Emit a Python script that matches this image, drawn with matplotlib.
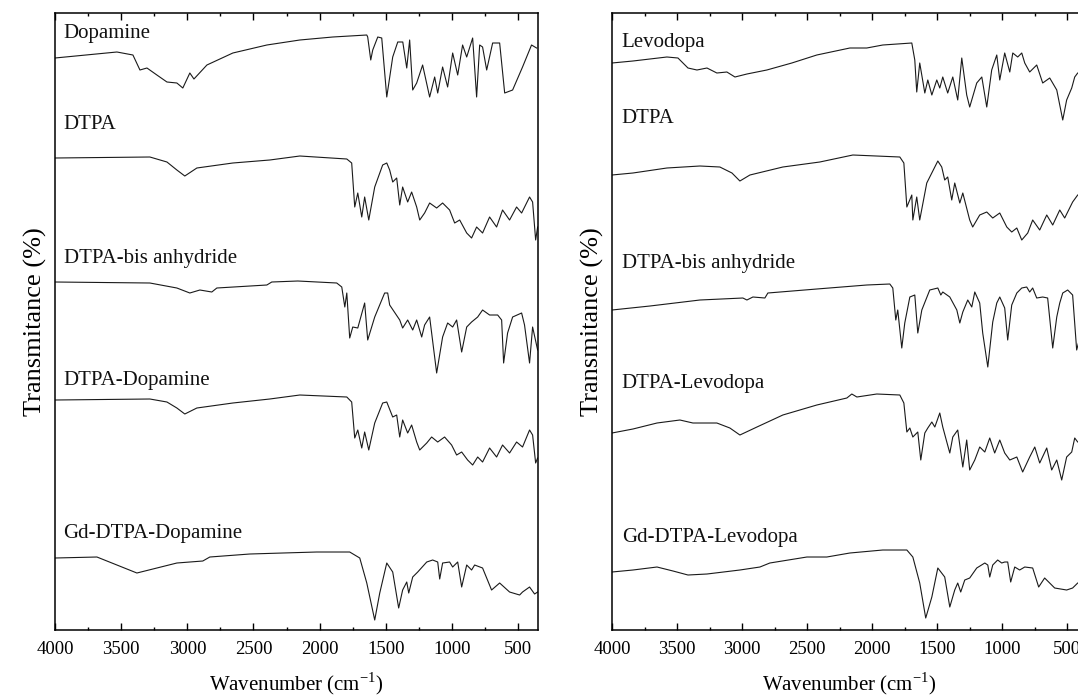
import matplotlib
matplotlib.use("Agg")
import numpy as np
import matplotlib.pyplot as plt
from matplotlib.ticker import MultipleLocator

plt.rcParams['font.family'] = ['Liberation Serif', 'DejaVu Serif']
plt.rcParams['mathtext.fontset'] = 'custom'
plt.rcParams['mathtext.rm'] = 'Liberation Serif'

# (wavenumber cm-1, transmittance a.u.) for every spectrum
dopamine = [(4000, 72), (3532, 78), (3411, 75), (3358, 60), (3305, 62), (3230, 55), (3154, 48),
            (3079, 47), (3034, 42), (2981, 57), (2950, 51), (2852, 65), (2656, 77), (2399, 85),
            (2150, 90), (1901, 93), (1644, 95), (1637, 93), (1614, 70), (1599, 80), (1561, 93),
            (1531, 92), (1493, 33), (1448, 73), (1410, 88), (1372, 88), (1342, 62), (1320, 90),
            (1297, 40), (1267, 47), (1222, 65), (1169, 33), (1131, 53), (1108, 37), (1071, 63),
            (1033, 43), (995, 77), (957, 55), (920, 85), (889, 73), (844, 92), (814, 33),
            (791, 85), (769, 83), (738, 60), (693, 87), (640, 87), (602, 37), (542, 40),
            (467, 63), (399, 85), (361, 82)]
dtpa_l = [(4000, 102), (3283, 103), (3154, 98), (3079, 90), (3019, 84), (2928, 92), (2656, 97),
          (2377, 100), (2150, 104), (1795, 101), (1758, 97), (1735, 53), (1712, 67), (1682, 43),
          (1660, 63), (1629, 40), (1584, 73), (1524, 95), (1493, 97), (1471, 90), (1448, 78),
          (1418, 82), (1395, 55), (1373, 73), (1335, 58), (1305, 68), (1267, 53), (1244, 40),
          (1207, 47), (1169, 57), (1116, 52), (1071, 57), (1018, 50), (980, 37), (942, 40),
          (889, 27), (852, 22), (814, 33), (769, 27), (716, 43), (663, 33), (618, 50),
          (565, 40), (512, 53), (474, 47), (414, 63), (391, 58), (368, 20), (353, 33)]
bis_l = [(4000, 98), (3283, 97), (3079, 92), (2981, 87), (2905, 90), (2815, 88), (2777, 92),
         (2399, 95), (2362, 98), (2165, 99), (1871, 97), (1833, 93), (1810, 73), (1795, 87),
         (1773, 42), (1750, 53), (1712, 52), (1660, 77), (1637, 40), (1584, 63), (1509, 87),
         (1486, 87), (1471, 75), (1395, 60), (1373, 52), (1335, 60), (1297, 50), (1267, 60),
         (1229, 43), (1207, 55), (1169, 63), (1116, 7), (1071, 43), (1033, 57), (995, 53),
         (965, 60), (927, 28), (889, 53), (852, 58), (806, 63), (769, 70), (716, 65),
         (655, 65), (625, 60), (610, 17), (580, 47), (542, 63), (474, 67), (452, 55),
         (414, 17), (391, 53), (353, 30)]
dtpa_dopamine = [(4000, 100), (3283, 101), (3154, 98), (3079, 92), (3019, 86), (2928, 92),
                 (2656, 97), (2377, 101), (2150, 105), (1795, 103), (1758, 98), (1735, 62),
                 (1712, 70), (1682, 52), (1660, 68), (1629, 50), (1584, 77), (1524, 97),
                 (1493, 98), (1448, 83), (1418, 85), (1395, 63), (1373, 80), (1335, 67),
                 (1305, 75), (1267, 58), (1244, 50), (1191, 57), (1154, 63), (1108, 58),
                 (1056, 63), (1003, 55), (965, 45), (927, 48), (882, 40), (844, 35), (806, 43),
                 (769, 38), (716, 52), (663, 43), (618, 55), (565, 47), (512, 58), (467, 53),
                 (414, 70), (391, 65), (368, 37), (353, 42)]
gd_dtpa_dopamine = [(4000, 72), (3683, 73), (3532, 65), (3381, 57), (3230, 62), (3079, 67),
                    (2883, 69), (2830, 73), (2528, 76), (2279, 77), (2022, 78), (1773, 78),
                    (1697, 72), (1644, 47), (1584, 10), (1546, 37), (1493, 67), (1448, 58),
                    (1403, 22), (1373, 40), (1342, 48), (1327, 37), (1297, 53), (1259, 58),
                    (1191, 68), (1146, 70), (1108, 68), (1093, 51), (1071, 67), (1018, 68),
                    (995, 63), (957, 68), (927, 43), (889, 65), (852, 60), (829, 65), (769, 62),
                    (701, 40), (640, 47), (565, 38), (489, 35), (467, 38), (414, 43), (376, 36),
                    (353, 38)]

levodopa = [(4000, 67), (3839, 69), (3578, 73), (3493, 72), (3416, 62), (3347, 60), (3270, 62),
            (3194, 57), (3117, 58), (3055, 53), (2963, 56), (2810, 60), (2618, 67), (2426, 75),
            (2172, 82), (2042, 82), (1919, 85), (1696, 87), (1673, 70), (1658, 38), (1635, 67),
            (1596, 37), (1573, 50), (1542, 35), (1504, 50), (1481, 42), (1458, 53), (1420, 37),
            (1381, 53), (1343, 30), (1312, 72), (1274, 35), (1251, 23), (1197, 47), (1158, 53),
            (1120, 23), (1082, 60), (1043, 75), (1020, 50), (982, 77), (943, 58), (920, 77),
            (882, 73), (851, 77), (828, 67), (790, 58), (736, 65), (690, 47), (636, 52),
            (582, 40), (536, 10), (506, 30), (467, 42), (444, 53), (421, 57), (350, 60)]
dtpa_r = [(4000, 85), (3839, 87), (3578, 92), (3324, 94), (3171, 93), (3078, 87), (3017, 79),
          (2940, 85), (2687, 93), (2403, 98), (2149, 105), (1788, 103), (1757, 97), (1734, 53),
          (1696, 65), (1688, 40), (1658, 63), (1635, 40), (1581, 77), (1496, 99), (1466, 93),
          (1443, 80), (1420, 83), (1389, 60), (1366, 77), (1327, 57), (1304, 67), (1251, 40),
          (1228, 33), (1174, 45), (1120, 48), (1074, 42), (1020, 47), (966, 33), (928, 28),
          (889, 32), (851, 20), (805, 27), (767, 40), (713, 30), (659, 45), (613, 35),
          (559, 50), (521, 42), (460, 58), (421, 65), (350, 70)]
bis_r = [(4000, 70), (3708, 74), (3324, 80), (2994, 82), (2963, 80), (2917, 83), (2825, 82),
         (2802, 87), (2426, 91), (2042, 95), (1865, 96), (1842, 92), (1819, 60), (1804, 70),
         (1773, 32), (1750, 57), (1711, 83), (1673, 85), (1650, 47), (1619, 70), (1558, 90),
         (1496, 92), (1473, 85), (1458, 88), (1404, 83), (1350, 70), (1327, 57), (1304, 68),
         (1266, 80), (1235, 73), (1212, 88), (1174, 77), (1151, 47), (1112, 13), (1074, 58),
         (1043, 77), (1020, 83), (982, 72), (959, 40), (928, 75), (889, 87), (851, 92),
         (813, 93), (790, 88), (767, 92), (736, 82), (690, 83), (652, 82), (613, 32),
         (582, 63), (559, 77), (536, 87), (498, 90), (460, 85), (429, 30), (350, 70)]
dtpa_levodopa = [(4000, 67), (3839, 71), (3654, 77), (3478, 80), (3378, 77), (3194, 77),
                 (3094, 72), (3017, 65), (2886, 73), (2687, 85), (2426, 95), (2195, 102),
                 (2157, 106), (2118, 103), (1965, 106), (1788, 105), (1757, 97), (1734, 68),
                 (1711, 72), (1688, 63), (1650, 68), (1627, 40), (1596, 67), (1573, 72),
                 (1542, 78), (1519, 73), (1481, 87), (1458, 73), (1427, 58), (1404, 47),
                 (1381, 63), (1343, 70), (1304, 33), (1274, 60), (1251, 30), (1212, 40),
                 (1174, 53), (1135, 48), (1097, 62), (1059, 47), (1020, 60), (982, 47),
                 (943, 40), (889, 43), (844, 28), (790, 43), (751, 53), (713, 37), (659, 52),
                 (621, 30), (582, 40), (544, 20), (506, 43), (467, 48), (444, 62), (421, 58),
                 (350, 55)]
gd_dtpa_levodopa = [(4000, 58), (3839, 60), (3654, 63), (3531, 59), (3416, 55), (3270, 56),
                    (3017, 60), (2863, 63), (2787, 67), (2502, 73), (2349, 73), (2172, 77),
                    (1919, 80), (1734, 80), (1688, 73), (1635, 47), (1589, 12), (1542, 33),
                    (1496, 62), (1443, 53), (1404, 23), (1366, 40), (1343, 47), (1320, 38),
                    (1289, 50), (1251, 52), (1197, 62), (1135, 67), (1112, 65), (1097, 53),
                    (1074, 65), (1036, 70), (1005, 67), (982, 68), (959, 68), (936, 48),
                    (905, 63), (867, 60), (828, 63), (767, 62), (721, 43), (675, 52), (598, 42),
                    (506, 40), (460, 42), (421, 47), (350, 50)]

left_names = ['Dopamine', 'DTPA', 'DTPA-bis anhydride', 'DTPA-Dopamine', 'Gd-DTPA-Dopamine']
right_names = ['Levodopa', 'DTPA', 'DTPA-bis anhydride', 'DTPA-Levodopa', 'Gd-DTPA-Levodopa']
left_spectra = [dopamine, dtpa_l, bis_l, dtpa_dopamine, gd_dtpa_dopamine]
right_spectra = [levodopa, dtpa_r, bis_r, dtpa_levodopa, gd_dtpa_levodopa]

# vertical stacking of the traces
offsets = [500, 370, 250, 130, 0]
left_label_y = [597, 506, 372, 250, 97]
right_label_y = [588, 512, 367, 247, 93]

fig = plt.figure(figsize=(10.78, 6.99), dpi=100)
ax_l = fig.add_axes([0.0510, 0.0987, 0.4481, 0.8827])
ax_r = fig.add_axes([0.5677, 0.0987, 0.4406, 0.8827])


def draw_panel(ax, spectra, names, label_y, label_x):
    for spec, off, name, ly in zip(spectra, offsets, names, label_y):
        arr = np.array(spec, dtype=float)
        ax.plot(arr[:, 0], arr[:, 1] + off, color='#1a1a1a', lw=0.8)
        ax.text(label_x, ly, name, fontsize=15, ha='left', va='center', color='#111111')
    ax.set_xlim(4000, 350)
    ax.set_ylim(0, 617)
    ax.set_yticks([])
    ax.xaxis.set_major_locator(MultipleLocator(500))
    ax.xaxis.set_minor_locator(MultipleLocator(250))
    ax.tick_params(axis='x', which='both', direction='in', top=True, bottom=True,
                   labelsize=13.5, pad=8)
    ax.tick_params(axis='x', which='major', length=5, width=1)
    ax.tick_params(axis='x', which='minor', length=2.5, width=1)
    for sp in ax.spines.values():
        sp.set_linewidth(1.1)
    ax.set_xlabel(r'Wavenumber (cm$^{-1}$)', fontsize=15, labelpad=9)
    ax.set_ylabel('Transmitance (%)', fontsize=19, labelpad=6)


draw_panel(ax_l, left_spectra, left_names, left_label_y, 3935)
draw_panel(ax_r, right_spectra, right_names, right_label_y, 3925)

fig.savefig('out.png', dpi=100)
